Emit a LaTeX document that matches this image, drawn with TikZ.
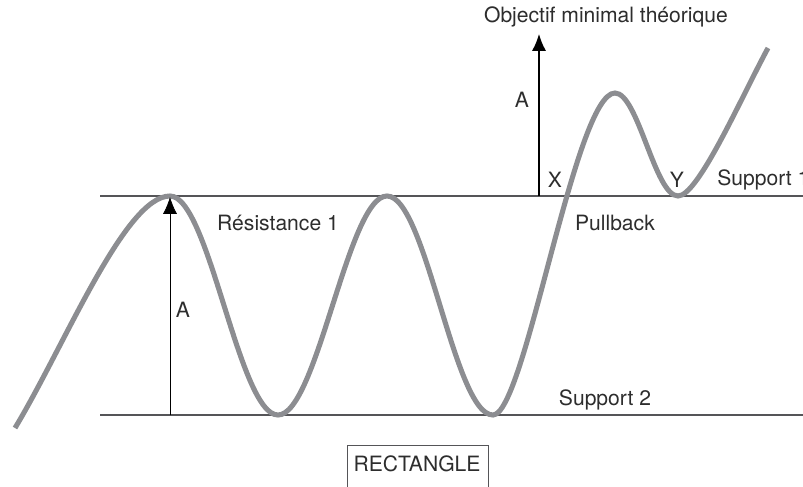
\documentclass[tikz,border=0pt]{standalone}
\usepackage{fontspec}
\setmainfont{TeX Gyre Heros}
\usepackage{xcolor}
\usetikzlibrary{arrows.meta, positioning}

\definecolor{pricegray}{RGB}{140,141,145}
\definecolor{levelgray}{RGB}{85,85,88}
\definecolor{txtgray}{RGB}{45,45,45}

\begin{document}
\begin{tikzpicture}[x=0.025cm, y=-0.025cm,
    every node/.style={font=\fontsize{15}{17}\selectfont, text=txtgray, inner sep=0pt},
    level/.style={levelgray, line width=0.8pt},
    price/.style={pricegray, line width=3.6pt},
    arr/.style={-{Latex[length=12pt, width=10pt]}, black}]
    % Canvas
    \useasboundingbox (0,0) rectangle (803,487);
    \clip (0,0) rectangle (803,487);

    % Resistance / support lines
    \draw[level] (100,196) -- (803,196);
    \draw[level] (100,415) -- (803,415);

    % Price curve
    \draw[price] (15,428) .. controls (65,345) and (125,196) .. (170,196)
        .. controls (209,196) and (239,415) .. (278,415)
        .. controls (317,415) and (348,196) .. (387,196)
        .. controls (426,196) and (454,415) .. (493,415)
        .. controls (525,415) and (575,93) .. (615,93)
        .. controls (638,93) and (655,196) .. (678,196)
        .. controls (698,196) and (740,100) .. (768,48);

    % Height of the pattern
    \coordinate (B1) at (170,415);
    \coordinate (P1) at (170,197);
    \draw[arr, line width=0.5pt] (B1) -- (P1);
    \node (A1) at (183,310) {A};

    % Projected target after breakout
    \coordinate (XB) at (539,196);
    \coordinate (TG) at (539,34);
    \draw[arr, line width=1pt] (XB) -- (TG);
    \node (A2) at (522,100) {A};
    \node (OBJ) at (606,17) {Objectif minimal théorique};

    % Labels
    \node (X) at (555,180) {X};
    \node (Y) at (677,180) {Y};
    \node[anchor=west] (S1) at (717,180) {Support 1};
    \node (R1) at (278,223) {Résistance 1};
    \node (PB) at (615,223) {Pullback};
    \node (S2) at (605,400) {Support 2};

    % Pattern name
    \draw[level, line width=0.6pt] (347,500) -- (347,445) -- (488,445) -- (488,500);
    \node (RECT) at (417,464) {RECTANGLE};
\end{tikzpicture}
\end{document}
